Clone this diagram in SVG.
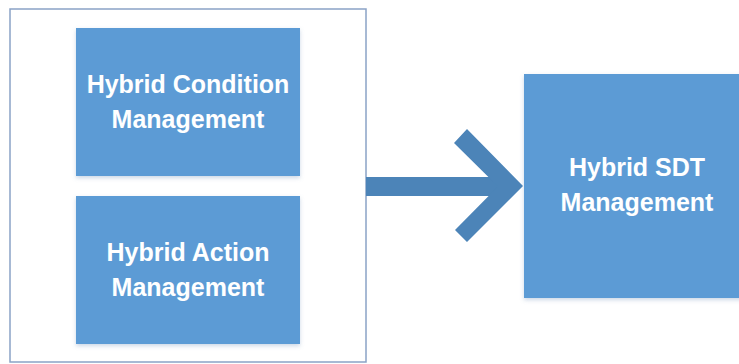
<svg xmlns="http://www.w3.org/2000/svg" width="739" height="364" viewBox="0 0 739 364">
  <defs>
    <filter id="shadow" x="-10%" y="-10%" width="120%" height="125%">
      <feDropShadow dx="0" dy="2" stdDeviation="2" flood-color="#6f8fb8" flood-opacity="0.35"/>
    </filter>
    <style>
      .box { fill: #5b9bd5; filter: url(#shadow); }
      .label { font-family: "Liberation Sans", Arial, sans-serif; font-weight: bold; font-size: 25px; fill: #ffffff; text-anchor: middle; }
      .frame { fill: #ffffff; stroke: #8aa3c6; stroke-width: 1.5; }
      .arrow { fill: #4c84b8; }
    </style>
  </defs>
  <rect width="739" height="364" fill="#ffffff"/>

  <!-- container holding the two hybrid sub-managers -->
  <g id="container">
    <rect class="frame" x="10" y="9" width="356" height="353"/>
  </g>

  <g id="condition-management">
    <rect class="box" x="76" y="28" width="224" height="148"/>
    <text class="label" x="188" y="93">Hybrid Condition</text>
    <text class="label" x="188" y="128">Management</text>
  </g>

  <g id="action-management">
    <rect class="box" x="76" y="196" width="224" height="148"/>
    <text class="label" x="188" y="261">Hybrid Action</text>
    <text class="label" x="188" y="296">Management</text>
  </g>

  <g id="sdt-management">
    <rect class="box" x="524" y="74" width="230" height="224"/>
    <text class="label" x="637" y="176">Hybrid SDT</text>
    <text class="label" x="637" y="211">Management</text>
  </g>

  <!-- connector: block arrow from container to SDT management -->
  <g id="connectors">
    <rect class="arrow" x="366" y="177" width="134" height="19"/>
    <polygon class="arrow" points="467,129 523,186 467,242 455,230 498,186.5 454,143"/>
  </g>
</svg>
